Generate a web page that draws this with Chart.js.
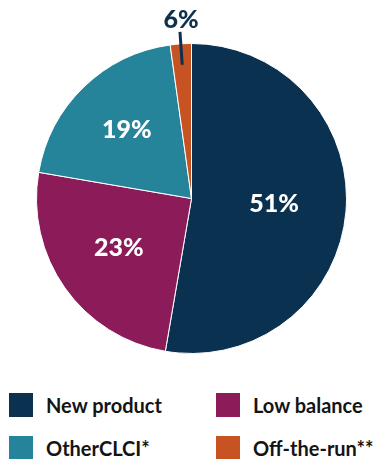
<!DOCTYPE html>
<html lang="en">
<head>
  <meta charset="utf-8">
  <title>Share by category</title>
  <script src="https://cdn.jsdelivr.net/npm/chart.js@4"></script>
  <style>
    body { margin: 0; background: #fff; font-family: Lato, "Noto Sans", sans-serif; }
    #wrap { position: relative; width: 373px; height: 459px; overflow: hidden; }
    #box { position: absolute; left: 0; top: 0; width: 373px; height: 380px; }
    .item { position: absolute; display: flex; align-items: center; height: 24px;
            font-weight: 700; font-size: 20px; color: #141414; white-space: nowrap; }
    .item span.sw { display: inline-block; width: 24px; height: 24px; margin-right: 13px; }
  </style>
</head>
<body>
  <div id="wrap">
    <div id="box"><canvas id="pie"></canvas></div>
    <div id="legend"></div>
  </div>
  <script>
    // slice sizes; printed labels kept as shown
    var categories = ['New product', 'Low balance', 'OtherCLCI*', 'Off-the-run**'];
    var shares = [52.7, 25.0, 20.1, 2.2];
    var shareLabels = ['51%', '23%', '19%', '6%'];
    var colors = ['#0a314f', '#8c1b5a', '#25849a', '#c65321'];

    // legend order in the 2x2 grid
    var legendPos = [[9, 393], [216, 393], [9, 436], [216, 436]];
    var lg = document.getElementById('legend');
    for (var i = 0; i < categories.length; i++) {
      var d = document.createElement('div');
      d.className = 'item';
      d.style.left = legendPos[i][0] + 'px';
      d.style.top = legendPos[i][1] + 'px';
      d.innerHTML = '<span class="sw" style="background:' + colors[i] + '"></span>' + categories[i];
      lg.appendChild(d);
    }

    const sliceLabels = {
      id: 'sliceLabels',
      afterDatasetsDraw(chart) {
        var ctx = chart.ctx;
        var arcs = chart.getDatasetMeta(0).data;
        var inside = [0.535, 0.575, 0.6];
        ctx.save();
        ctx.font = '900 25px Lato, "Noto Sans", sans-serif';
        ctx.textAlign = 'center';
        ctx.textBaseline = 'middle';
        arcs.forEach(function (a, i) {
          var mid = (a.startAngle + a.endAngle) / 2;
          var r = a.outerRadius;
          if (i < 3) {
            ctx.fillStyle = '#fff';
            ctx.fillText(shareLabels[i], a.x + Math.cos(mid) * r * inside[i], a.y + Math.sin(mid) * r * inside[i] - 2);
          } else {
            // small slice: label above with a leader line
            var x0 = a.x + Math.cos(mid) * r * 0.865;
            var y0 = a.y + Math.sin(mid) * r * 0.865;
            var x1 = a.x + Math.cos(mid) * (r + 12);
            var y1 = a.y + Math.sin(mid) * (r + 12);
            ctx.strokeStyle = colors[0];
            ctx.lineWidth = 3;
            ctx.beginPath();
            ctx.moveTo(x0, y0);
            ctx.lineTo(x1, y1);
            ctx.stroke();
            ctx.fillStyle = colors[0];
            ctx.fillText(shareLabels[i], x1 + 1, y1 - 12);
          }
        });
        ctx.restore();
      }
    };

    new Chart(document.getElementById('pie'), {
      type: 'pie',
      data: {
        labels: categories,
        datasets: [{
          data: shares,
          backgroundColor: colors,
          borderColor: '#fff',
          borderWidth: 1
        }]
      },
      options: {
        responsive: true,
        maintainAspectRatio: false,
        animation: false,
        layout: { padding: { left: 36, right: 26, top: 43, bottom: 26 } },
        plugins: { legend: { display: false }, tooltip: { enabled: false } }
      },
      plugins: [sliceLabels]
    });
  </script>
</body>
</html>
